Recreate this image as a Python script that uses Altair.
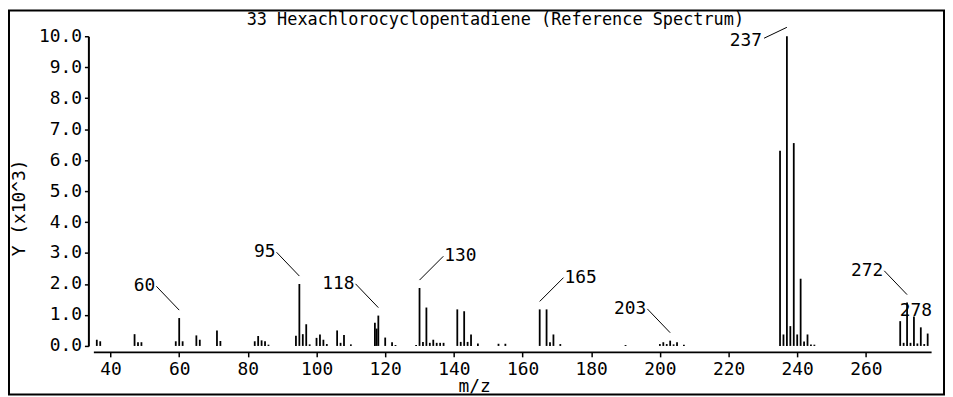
import altair as alt
import pandas as pd

# ---- data (intensity in thousands) ----
mz = [36, 37, 47, 48, 49, 59, 60, 61, 65, 66, 71, 72,
      82, 83, 84, 85, 86, 94, 95, 96, 97, 98,
      100, 101, 102, 103, 106, 107, 108, 110,
      117, 117.5, 118, 120, 122, 123,
      129, 130, 131, 132, 133, 134, 135, 136, 137,
      141, 142, 143, 144, 145, 147, 153, 155,
      165, 167, 168, 169, 171, 190,
      200, 201, 202, 203, 204, 205, 207,
      235, 236, 237, 238, 239, 240, 241, 242, 243, 244, 245,
      270, 271, 272, 273, 274, 275, 276, 277, 278]
intensity = [0.20, 0.15, 0.38, 0.12, 0.12, 0.15, 0.90, 0.15, 0.34, 0.20, 0.50, 0.16,
             0.15, 0.32, 0.18, 0.15, 0.04, 0.33, 2.00, 0.38, 0.70, 0.05,
             0.26, 0.37, 0.20, 0.06, 0.50, 0.10, 0.35, 0.05,
             0.75, 0.56, 0.98, 0.27, 0.12, 0.03,
             0.03, 1.87, 0.13, 1.24, 0.10, 0.20, 0.10, 0.10, 0.10,
             1.18, 0.13, 1.12, 0.13, 0.37, 0.08, 0.07, 0.07,
             1.18, 1.18, 0.12, 0.37, 0.06, 0.03,
             0.06, 0.12, 0.06, 0.17, 0.05, 0.12, 0.04,
             6.30, 0.37, 10.00, 0.64, 6.55, 0.37, 2.17, 0.14, 0.37, 0.05, 0.04,
             0.80, 0.10, 1.40, 0.10, 0.95, 0.08, 0.60, 0.06, 0.40]
label_mz = [60, 95, 118, 130, 165, 203, 237, 272, 278]
x_ticks = [40, 60, 80, 100, 120, 140, 160, 180, 200, 220, 240, 260]
y_ticks = [0, 1, 2, 3, 4, 5, 6, 7, 8, 9, 10]
title_text = "33 Hexachlorocyclopentadiene (Reference Spectrum)"
x_title = "m/z"
y_title = "Y (x10^3)"

# ---- layout / style ----
LEFT, TOP, W, H, RIGHT, BOTTOM = 86, 27, 844, 312, 14, 50
XMIN, XMAX, YMIN, YMAX = 35, 279, 0, 10
PPM = W / (XMAX - XMIN)
PPK = H / (YMAX - YMIN)
FONT = "DejaVu Sans Mono"
FS = 18
FS_TITLE = 17

# label placement (pixel offsets from the peak top): start, end, text, align
placement = {
    "ul": ((0, -8), (-23, -32), (-24, -32), "right"),
    "ur": ((0, -8), (24, -32), (25, -32), "left"),
    "l": ((0, -9), (-23, 2), (-25, 4.5), "right"),
    "c": (None, None, (-12, -23), "center"),
}
label_place = {60: "ul", 95: "ul", 118: "ul", 130: "ur", 165: "ur",
               203: "ul", 237: "l", 272: "ul", 278: "c"}

peaks = pd.DataFrame({"mz": mz, "y": intensity})
lookup = dict(zip(mz, intensity))

lead_rows, text_rows = [], []
for m in label_mz:
    s, e, t, al = placement[label_place[m]]
    v = lookup[m]
    if s is not None:
        lead_rows.append({"x": m + s[0] / PPM, "y": v - s[1] / PPK,
                          "x2": m + e[0] / PPM, "y2": v - e[1] / PPK})
    text_rows.append({"x": m + t[0] / PPM, "y": v - t[1] / PPK,
                      "label": str(m), "align": al})
leads = pd.DataFrame(lead_rows)
texts = pd.DataFrame(text_rows)

xscale = alt.Scale(domain=[XMIN, XMAX], nice=False, zero=False)
yscale = alt.Scale(domain=[YMIN, YMAX], nice=False)

x_axis = alt.Axis(values=x_ticks, title=None, format="d", offset=6, tickSize=5,
                  labelPadding=4, labelFont=FONT, labelFontSize=FS, labelColor="black",
                  domainColor="black", domainWidth=2, tickColor="black", tickWidth=1.5,
                  grid=False, labelBaseline="top", labelFlush=False, labelOverlap=False)
y_axis = alt.Axis(values=y_ticks, title=None, format=".1f", offset=5, tickSize=4,
                  labelPadding=3, labelFont=FONT, labelFontSize=FS, labelColor="black",
                  domainColor="black", domainWidth=2, tickColor="black", tickWidth=1.5,
                  grid=False, labelBaseline="middle", labelOverlap=False, labelFlush=False)


def X(field):
    return alt.X(field, type="quantitative", scale=xscale, axis=x_axis)


def Y(field):
    return alt.Y(field, type="quantitative", scale=yscale, axis=y_axis)


bars = alt.Chart(peaks).mark_rule(color="black", strokeWidth=1.8).encode(
    x=X("mz"), y=Y("y"), y2=alt.datum(0),
)

leaders = alt.Chart(leads).mark_rule(color="black", strokeWidth=1).encode(
    x=X("x"), y=Y("y"), x2="x2:Q", y2="y2:Q",
)

label_layers = []
for al in ["left", "right", "center"]:
    label_layers.append(
        alt.Chart(texts).transform_filter(alt.datum.align == al).mark_text(
            font=FONT, fontSize=FS, color="black", align=al, baseline="middle"
        ).encode(x=X("x"), y=Y("y"), text="label:N")
    )

one = pd.DataFrame({"t": [title_text], "xt": [x_title], "yt": [y_title]})
title = alt.Chart(one).mark_text(font=FONT, fontSize=FS_TITLE, color="black",
                                 align="center", baseline="middle").encode(
    x=alt.value(405), y=alt.value(-16.5), text="t:N")
xtitle = alt.Chart(one).mark_text(font=FONT, fontSize=FS, color="black",
                                  align="center", baseline="middle").encode(
    x=alt.value(384), y=alt.value(353), text="xt:N")
ytitle = alt.Chart(one).mark_text(font=FONT, fontSize=FS, color="black", angle=270,
                                  align="center", baseline="middle").encode(
    x=alt.value(-74), y=alt.value(173), text="yt:N")
frame = alt.Chart(one).mark_rect(filled=False, stroke="black", strokeWidth=2).encode(
    x=alt.value(-LEFT + 1), x2=alt.value(W + RIGHT - 1),
    y=alt.value(-TOP + 1), y2=alt.value(H + BOTTOM - 1))

chart = alt.layer(bars, leaders, *label_layers, title, xtitle, ytitle, frame).properties(
    width=W, height=H,
    autosize=alt.AutoSizeParams(type="none"),
    padding={"left": LEFT, "top": TOP, "right": RIGHT, "bottom": BOTTOM},
    background="white",
).configure_view(stroke=None)

chart.save("out.html", embed_options={"renderer": "svg", "actions": False})
